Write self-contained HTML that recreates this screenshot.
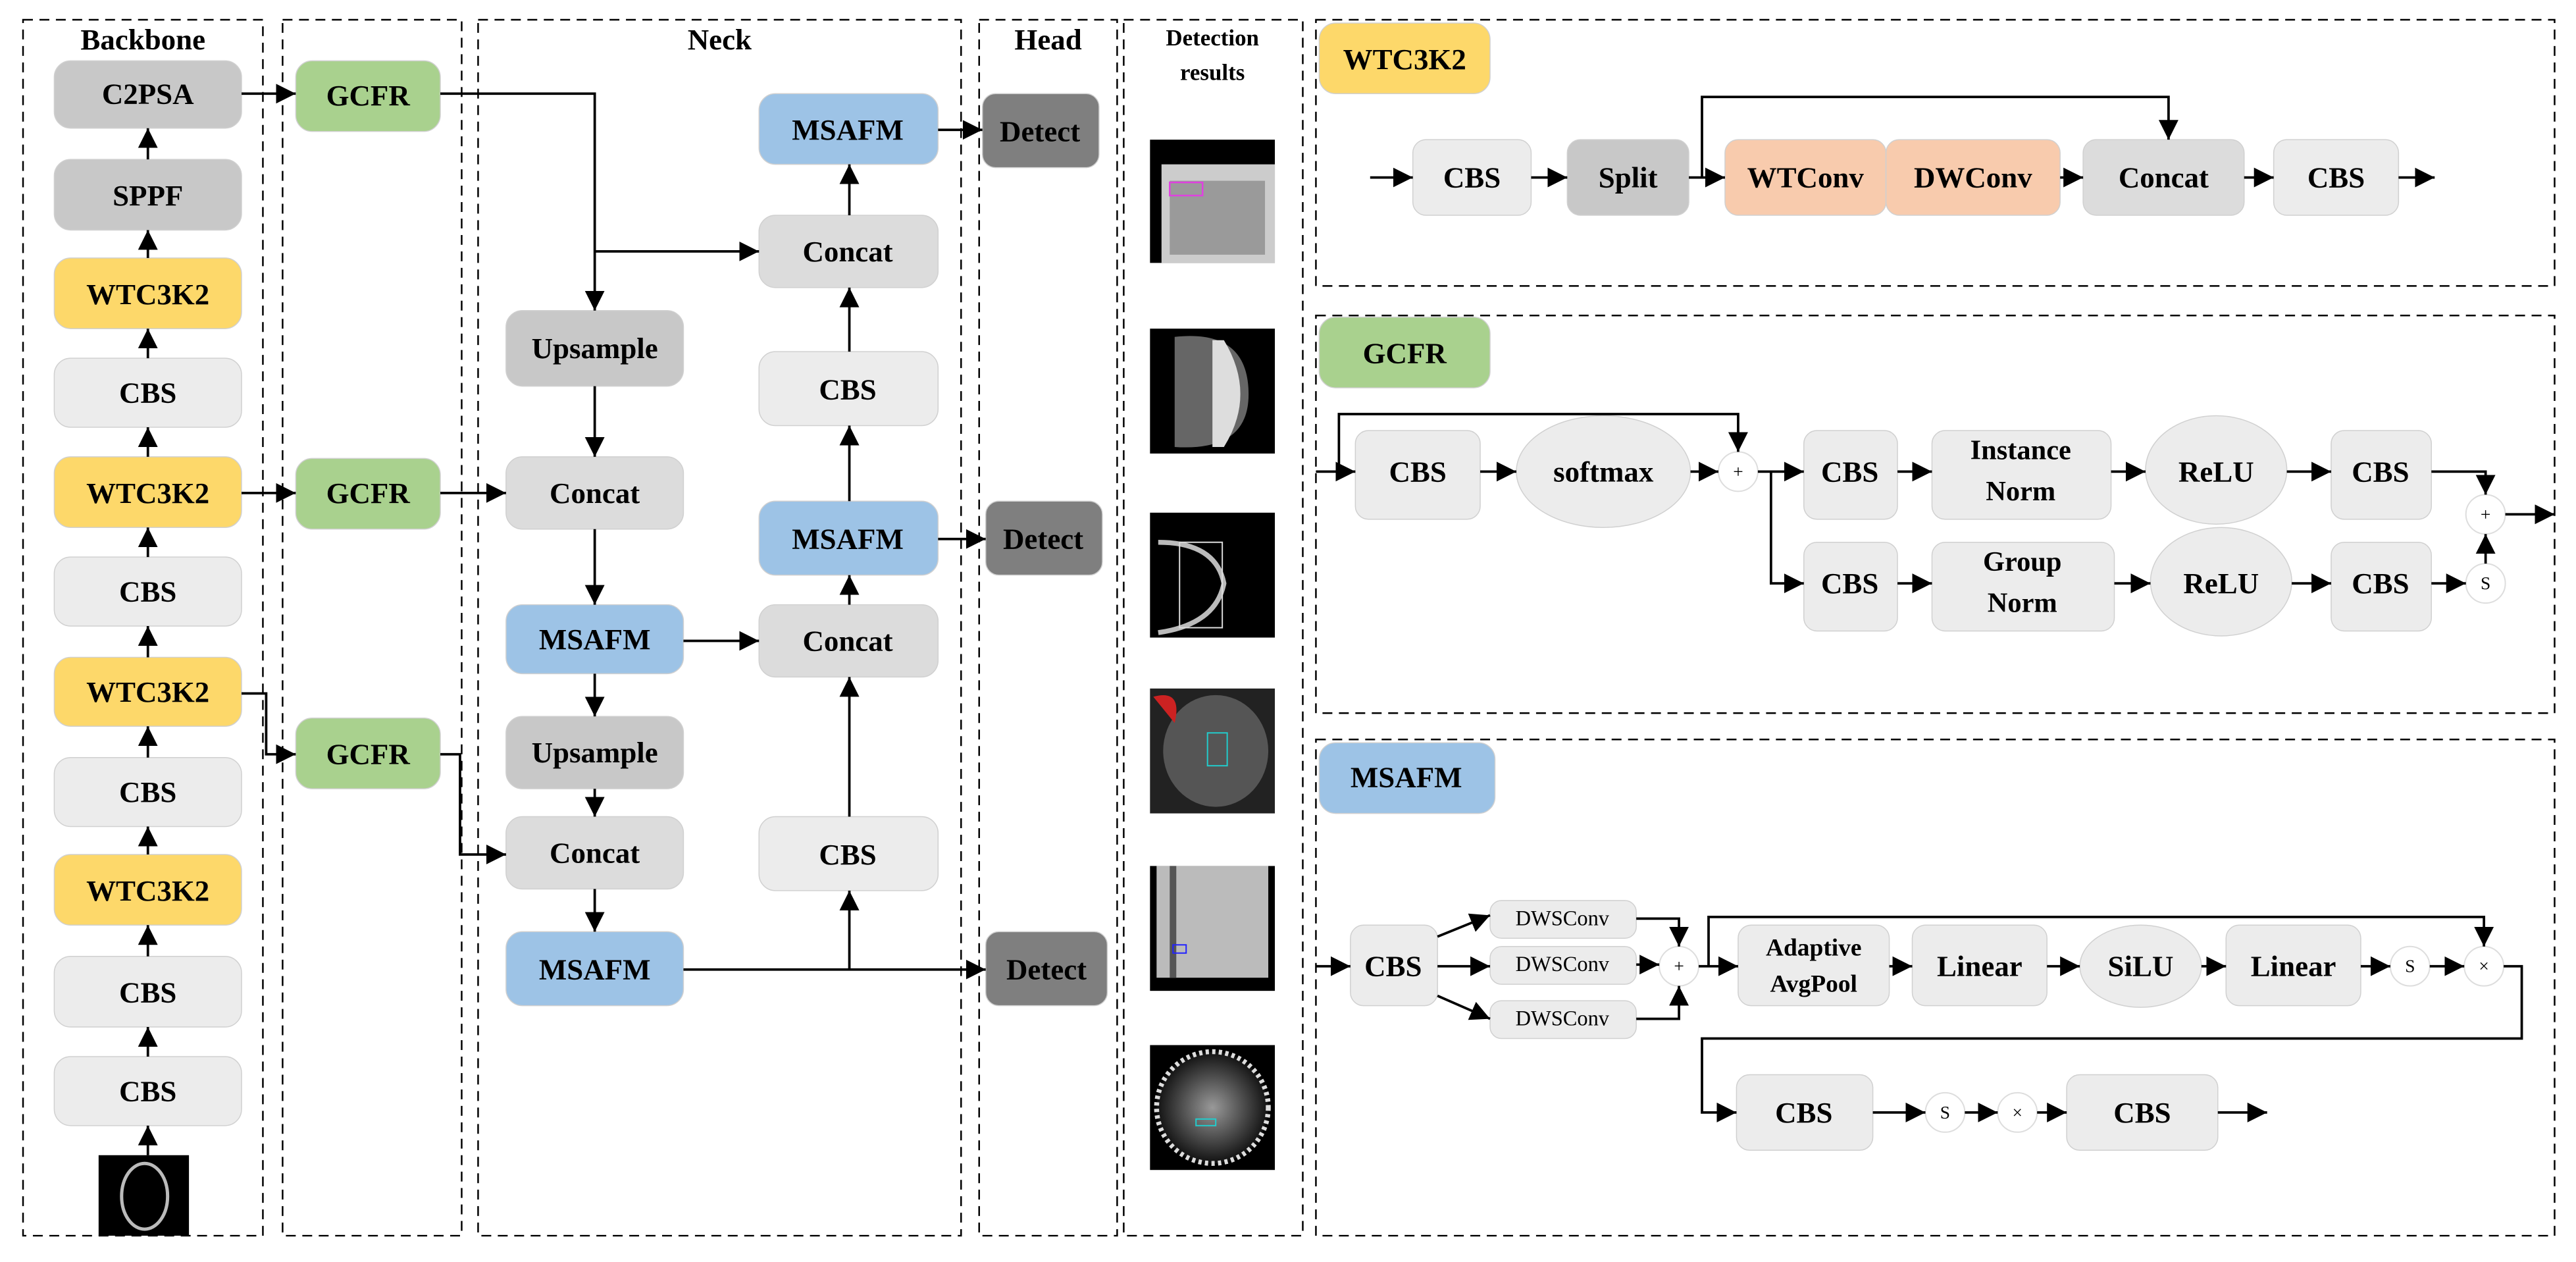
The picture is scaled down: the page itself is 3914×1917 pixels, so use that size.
<!DOCTYPE html>
<html><head><meta charset="utf-8"><style>
html,body{margin:0;padding:0;background:#fff}
svg{display:block}
text{font-family:"Liberation Serif",serif;font-weight:bold;fill:#000;text-anchor:middle;dominant-baseline:central}
</style></head><body>
<svg width="3914" height="1917" viewBox="0 0 1568 768" xmlns="http://www.w3.org/2000/svg">
<defs>
<marker id="a" viewBox="0 0 10 10" refX="10" refY="5" markerWidth="5" markerHeight="5" orient="auto-start-reverse" markerUnits="userSpaceOnUse"><path d="M0,0L10,5L0,10z" fill="#000"/></marker>
<marker id="b" viewBox="0 0 10 10" refX="10" refY="5" markerWidth="12" markerHeight="12" orient="auto" markerUnits="userSpaceOnUse"><path d="M0,0L10,5L0,10z" fill="#000"/></marker>
<radialGradient id="g1" cx="50%" cy="50%" r="50%"><stop offset="0" stop-color="#999"/><stop offset="1" stop-color="#111"/></radialGradient>
</defs>
<g fill="none" stroke="#000" stroke-width="1" stroke-dasharray="6,4">
<rect x="14" y="12" width="146" height="740"/>
<rect x="172" y="12" width="109" height="740"/>
<rect x="291" y="12" width="294" height="740"/>
<rect x="596" y="12" width="84" height="740"/>
<rect x="684" y="12" width="109" height="740"/>
<rect x="801" y="12" width="754" height="162"/>
<rect x="801" y="192" width="754" height="242"/>
<rect x="801" y="450" width="754" height="302"/>
</g>
<text x="87" y="24" font-size="18">Backbone</text>
<text x="438" y="24" font-size="18">Neck</text>
<text x="638" y="24" font-size="18">Head</text>
<text x="738" y="23" font-size="14">Detection</text>
<text x="738" y="44" font-size="14">results</text>

<g stroke="#d0d0d0" stroke-width="0.6">
<!-- backbone -->
<rect x="33" y="37" width="114" height="41" rx="10" fill="#c8c8c8"/>
<rect x="33" y="97" width="114" height="43" rx="10" fill="#c8c8c8"/>
<rect x="33" y="157" width="114" height="43" rx="10" fill="#fdd86a"/>
<rect x="33" y="218" width="114" height="42" rx="10" fill="#ececec"/>
<rect x="33" y="278" width="114" height="43" rx="10" fill="#fdd86a"/>
<rect x="33" y="339" width="114" height="42" rx="10" fill="#ececec"/>
<rect x="33" y="400" width="114" height="42" rx="10" fill="#fdd86a"/>
<rect x="33" y="461" width="114" height="42" rx="10" fill="#ececec"/>
<rect x="33" y="520" width="114" height="43" rx="10" fill="#fdd86a"/>
<rect x="33" y="582" width="114" height="43" rx="10" fill="#ececec"/>
<rect x="33" y="643" width="114" height="42" rx="10" fill="#ececec"/>
<!-- GCFR -->
<rect x="180" y="37" width="88" height="43" rx="10" fill="#a9d18e"/>
<rect x="180" y="279" width="88" height="43" rx="10" fill="#a9d18e"/>
<rect x="180" y="437" width="88" height="43" rx="10" fill="#a9d18e"/>
<!-- neck -->
<rect x="308" y="189" width="108" height="46" rx="10" fill="#c8c8c8"/>
<rect x="308" y="278" width="108" height="44" rx="10" fill="#dcdcdc"/>
<rect x="308" y="368" width="108" height="42" rx="10" fill="#9dc3e6"/>
<rect x="308" y="436" width="108" height="44" rx="10" fill="#c8c8c8"/>
<rect x="308" y="497" width="108" height="44" rx="10" fill="#dcdcdc"/>
<rect x="308" y="567" width="108" height="45" rx="10" fill="#9dc3e6"/>
<rect x="462" y="57" width="109" height="43" rx="10" fill="#9dc3e6"/>
<rect x="462" y="131" width="109" height="44" rx="10" fill="#dcdcdc"/>
<rect x="462" y="214" width="109" height="45" rx="10" fill="#ececec"/>
<rect x="462" y="305" width="109" height="45" rx="10" fill="#9dc3e6"/>
<rect x="462" y="368" width="109" height="44" rx="10" fill="#dcdcdc"/>
<rect x="462" y="497" width="109" height="45" rx="10" fill="#ececec"/>
<rect x="598" y="57" width="71" height="45" rx="8" fill="#7f7f7f"/>
<rect x="600" y="305" width="71" height="45" rx="8" fill="#7f7f7f"/>
<rect x="600" y="567" width="74" height="45" rx="8" fill="#7f7f7f"/>
<!-- WTC3K2 panel -->
<rect x="803" y="14" width="104" height="43" rx="10" fill="#fdd86a"/>
<rect x="860" y="85" width="72" height="46" rx="8" fill="#ececec"/>
<rect x="954" y="85" width="74" height="46" rx="8" fill="#c8c8c8"/>
<rect x="1050" y="85" width="98" height="46" rx="8" fill="#f8cbad"/>
<rect x="1148" y="85" width="106" height="46" rx="8" fill="#f8cbad"/>
<rect x="1268" y="85" width="98" height="46" rx="8" fill="#dcdcdc"/>
<rect x="1384" y="85" width="76" height="46" rx="8" fill="#ececec"/>
<!-- GCFR panel -->
<rect x="803" y="193" width="104" height="43" rx="10" fill="#a9d18e"/>
<rect x="825" y="262" width="76" height="54" rx="8" fill="#ececec"/>
<ellipse cx="976" cy="287" rx="53" ry="34" fill="#ececec"/>
<rect x="1098" y="262" width="57" height="54" rx="8" fill="#ececec"/>
<rect x="1176" y="262" width="109" height="54" rx="8" fill="#ececec"/>
<ellipse cx="1349" cy="286" rx="43" ry="33" fill="#ececec"/>
<rect x="1419" y="262" width="61" height="54" rx="8" fill="#ececec"/>
<rect x="1098" y="330" width="57" height="54" rx="8" fill="#ececec"/>
<rect x="1176" y="330" width="111" height="54" rx="8" fill="#ececec"/>
<ellipse cx="1352" cy="354" rx="43" ry="33" fill="#ececec"/>
<rect x="1419" y="330" width="61" height="54" rx="8" fill="#ececec"/>
<!-- MSAFM panel -->
<rect x="803" y="452" width="107" height="43" rx="10" fill="#9dc3e6"/>
<rect x="822" y="563" width="53" height="49" rx="8" fill="#ececec"/>
<rect x="907" y="548" width="89" height="23" rx="7" fill="#ececec"/>
<rect x="907" y="576" width="89" height="23" rx="7" fill="#ececec"/>
<rect x="907" y="609" width="89" height="23" rx="7" fill="#ececec"/>
<rect x="1058" y="563" width="92" height="49" rx="8" fill="#ececec"/>
<rect x="1164" y="563" width="82" height="49" rx="8" fill="#ececec"/>
<ellipse cx="1303" cy="588" rx="37" ry="25" fill="#ececec"/>
<rect x="1355" y="563" width="82" height="49" rx="8" fill="#ececec"/>
<rect x="1057" y="654" width="83" height="46" rx="8" fill="#ececec"/>
<rect x="1258" y="654" width="92" height="46" rx="8" fill="#ececec"/>
</g>
<!-- small circles -->
<g fill="#fff" stroke="#ddd" stroke-width="0.8">
<circle cx="1058" cy="287" r="12"/><circle cx="1513" cy="313" r="12"/><circle cx="1513" cy="355" r="12"/>
<circle cx="1022" cy="588" r="12"/><circle cx="1467" cy="588" r="12"/><circle cx="1512" cy="588" r="12"/>
<circle cx="1184" cy="677" r="12"/><circle cx="1228" cy="677" r="12"/>
</g>
<g font-size="11" style="font-weight:normal">
<text x="1058" y="287" style="font-weight:normal">+</text><text x="1513" y="313" style="font-weight:normal">+</text><text x="1513" y="355" style="font-weight:normal">S</text>
<text x="1022" y="588" style="font-weight:normal">+</text><text x="1467" y="588" style="font-weight:normal">S</text><text x="1512" y="588" style="font-weight:normal">×</text>
<text x="1184" y="677" style="font-weight:normal">S</text><text x="1228" y="677" style="font-weight:normal">×</text>
</g>

<!-- labels -->
<g font-size="18">
<text x="90" y="57">C2PSA</text><text x="90" y="119">SPPF</text><text x="90" y="179">WTC3K2</text>
<text x="90" y="239">CBS</text><text x="90" y="300">WTC3K2</text><text x="90" y="360">CBS</text>
<text x="90" y="421">WTC3K2</text><text x="90" y="482">CBS</text><text x="90" y="542">WTC3K2</text>
<text x="90" y="604">CBS</text><text x="90" y="664">CBS</text>
<text x="224" y="58">GCFR</text><text x="224" y="300">GCFR</text><text x="224" y="459">GCFR</text>
<text x="362" y="212">Upsample</text><text x="362" y="300">Concat</text><text x="362" y="389">MSAFM</text>
<text x="362" y="458">Upsample</text><text x="362" y="519">Concat</text><text x="362" y="590">MSAFM</text>
<text x="516" y="79">MSAFM</text><text x="516" y="153">Concat</text><text x="516" y="237">CBS</text>
<text x="516" y="328">MSAFM</text><text x="516" y="390">Concat</text><text x="516" y="520">CBS</text>
<text x="633" y="80">Detect</text><text x="635" y="328">Detect</text><text x="637" y="590">Detect</text>
<text x="855" y="36">WTC3K2</text><text x="896" y="108">CBS</text><text x="991" y="108">Split</text>
<text x="1099" y="108">WTConv</text><text x="1201" y="108">DWConv</text><text x="1317" y="108">Concat</text><text x="1422" y="108">CBS</text>
<text x="855" y="215">GCFR</text><text x="863" y="287">CBS</text><text x="976" y="287">softmax</text>
<text x="1126" y="287">CBS</text><text x="1230" y="274" font-size="17">Instance</text><text x="1230" y="299" font-size="17">Norm</text>
<text x="1349" y="287">ReLU</text><text x="1449" y="287">CBS</text>
<text x="1126" y="355">CBS</text><text x="1231" y="342" font-size="17">Group</text><text x="1231" y="367" font-size="17">Norm</text>
<text x="1352" y="355">ReLU</text><text x="1449" y="355">CBS</text>
<text x="856" y="473">MSAFM</text><text x="848" y="588">CBS</text>
<text x="951" y="559" font-size="13" style="font-weight:normal">DWSConv</text>
<text x="951" y="587" font-size="13" style="font-weight:normal">DWSConv</text>
<text x="951" y="620" font-size="13" style="font-weight:normal">DWSConv</text>
<text x="1104" y="577" font-size="15">Adaptive</text><text x="1104" y="599" font-size="15">AvgPool</text>
<text x="1205" y="588">Linear</text><text x="1303" y="588">SiLU</text><text x="1396" y="588">Linear</text>
<text x="1098" y="677">CBS</text><text x="1304" y="677">CBS</text>
</g>

<!-- connectors -->
<g fill="none" stroke="#000" stroke-width="1.5" marker-end="url(#b)">
<path d="M90,97V78"/><path d="M90,157V140"/><path d="M90,218V200"/><path d="M90,278V260"/>
<path d="M90,339V321"/><path d="M90,400V381"/><path d="M90,461V442"/><path d="M90,520V503"/>
<path d="M90,582V563"/><path d="M90,643V625"/><path d="M90,703V685"/>
<path d="M147,57H180"/><path d="M147,300H180"/><path d="M147,422H162V459H180"/>
<path d="M268,57H362V189"/><path d="M362,153H462"/><path d="M268,300H308"/><path d="M268,459H280V520H308"/>
<path d="M362,235V278"/><path d="M362,322V368"/><path d="M416,390H462"/><path d="M362,410V436"/>
<path d="M362,480V497"/><path d="M362,541V567"/><path d="M416,590H600"/><path d="M517,590V542"/>
<path d="M517,497V412"/><path d="M517,368V350"/><path d="M517,305V259"/><path d="M517,214V175"/>
<path d="M517,131V100"/><path d="M571,79H598"/><path d="M571,328H600"/>
<path d="M834,108H860"/><path d="M932,108H954"/><path d="M1028,108H1050"/><path d="M1036,108V59H1320V85"/>
<path d="M1254,108H1268"/><path d="M1366,108H1384"/><path d="M1460,108H1482"/>
<path d="M801,287H825"/><path d="M815,287V252H1058V275"/><path d="M901,287H923"/><path d="M1029,287H1046"/>
<path d="M1070,287H1098"/><path d="M1078,287V355H1098"/><path d="M1155,287H1176"/><path d="M1285,287H1306"/>
<path d="M1392,287H1419"/><path d="M1480,287H1513V301"/><path d="M1155,355H1176"/><path d="M1287,355H1309"/>
<path d="M1395,355H1419"/><path d="M1480,355H1501"/><path d="M1513,343V325"/><path d="M1525,313H1555"/>
<path d="M801,588H822"/><path d="M875,570L907,557"/><path d="M875,588H907"/><path d="M875,606L907,620"/>
<path d="M996,559H1022V576"/><path d="M996,587H1010"/><path d="M996,620H1022V600"/>
<path d="M1034,588H1058"/><path d="M1040,588V558H1512V576"/><path d="M1150,588H1164"/><path d="M1246,588H1266"/>
<path d="M1340,588H1355"/><path d="M1437,588H1455"/><path d="M1479,588H1500"/>
<path d="M1524,588H1535V632H1036V677H1057"/><path d="M1140,677H1172"/><path d="M1196,677H1216"/>
<path d="M1240,677H1258"/><path d="M1350,677H1380"/>
</g>

<!-- images -->
<g>
<rect x="60" y="703" width="55" height="49" fill="#000"/>
<ellipse cx="88" cy="728" rx="14" ry="20" fill="none" stroke="#bbb" stroke-width="2"/>
<rect x="700" y="85" width="76" height="75" fill="#000"/>
<path d="M707,100H776V160H707z" fill="#ccc"/><path d="M712,110H770V155H712z" fill="#9a9a9a"/>
<rect x="712" y="111" width="20" height="8" fill="none" stroke="#e040e0"/>
<rect x="700" y="200" width="76" height="76" fill="#000"/>
<path d="M715,205Q760,200 760,240Q760,275 715,272z" fill="#666"/><path d="M745,207Q765,240 745,272H738V207z" fill="#ddd"/>
<rect x="700" y="312" width="76" height="76" fill="#000"/>
<path d="M705,330Q740,330 745,355Q740,380 705,385" fill="none" stroke="#bbb" stroke-width="3"/>
<rect x="718" y="330" width="26" height="52" fill="none" stroke="#ddd" stroke-width="0.8"/>
<rect x="700" y="419" width="76" height="76" fill="#222"/>
<ellipse cx="740" cy="457" rx="32" ry="34" fill="#555"/><path d="M702,424Q720,419 715,440z" fill="#c22"/>
<rect x="735" y="446" width="12" height="20" fill="none" stroke="#2cc" stroke-width="0.8"/>
<rect x="700" y="527" width="76" height="76" fill="#000"/>
<rect x="704" y="527" width="68" height="68" fill="#bbb"/><rect x="712" y="527" width="4" height="68" fill="#555"/>
<rect x="714" y="575" width="8" height="5" fill="none" stroke="#22f" stroke-width="0.8"/>
<rect x="700" y="636" width="76" height="76" fill="#000"/>
<circle cx="738" cy="674" r="34" fill="url(#g1)"/><circle cx="738" cy="674" r="34" fill="none" stroke="#ddd" stroke-width="3" stroke-dasharray="2,2"/>
<rect x="728" y="681" width="12" height="4" fill="none" stroke="#2cc" stroke-width="0.8"/>
</g>
</svg>
</body></html>
